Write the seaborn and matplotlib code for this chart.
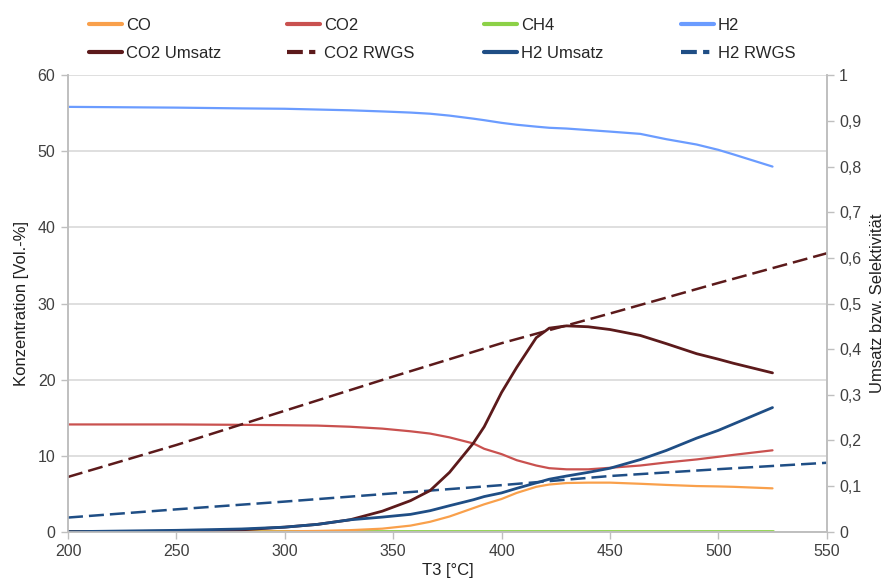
import pandas as pd
import matplotlib
matplotlib.use("Agg")
import matplotlib.pyplot as plt
from matplotlib.ticker import FuncFormatter, MultipleLocator
from matplotlib.lines import Line2D
import seaborn as sns

# temperature grid of the measured series (T3 in °C)
temp = [200, 250, 280, 300, 315, 330, 345, 358, 367, 376, 387, 392, 400,
        407, 416, 422, 430, 440, 450, 464, 476, 490, 500, 507, 525]

# concentrations [Vol.-%] (left axis)
co = [0, 0, 0.02, 0.05, 0.1, 0.2, 0.4, 0.8, 1.3, 2.0, 3.1, 3.6, 4.3,
      5.1, 5.9, 6.2, 6.4, 6.45, 6.45, 6.3, 6.15, 6.0, 5.95, 5.9, 5.7]
co2 = [14.1, 14.1, 14.05, 14.0, 13.95, 13.8, 13.55, 13.2, 12.9, 12.4, 11.6, 10.9, 10.2,
       9.4, 8.7, 8.35, 8.2, 8.2, 8.4, 8.7, 9.1, 9.5, 9.85, 10.1, 10.7]
ch4 = [0.1] * len(temp)
h2 = [55.85, 55.75, 55.65, 55.6, 55.5, 55.4, 55.25, 55.1, 54.95, 54.7, 54.3, 54.1, 53.75,
      53.5, 53.25, 53.1, 53.0, 52.8, 52.6, 52.3, 51.6, 50.9, 50.2, 49.6, 48.0]

# conversions (right axis)
co2_umsatz = [0, 0.001, 0.004, 0.01, 0.016, 0.026, 0.045, 0.068, 0.09, 0.13, 0.194, 0.23, 0.305,
              0.36, 0.425, 0.446, 0.451, 0.449, 0.443, 0.43, 0.412, 0.39, 0.378, 0.369, 0.348]
h2_umsatz = [0, 0.003, 0.006, 0.01, 0.016, 0.026, 0.032, 0.038, 0.046, 0.057, 0.07, 0.077, 0.085,
             0.095, 0.107, 0.115, 0.122, 0.13, 0.139, 0.158, 0.178, 0.205, 0.222, 0.236, 0.272]

# equilibrium (RWGS) curves
temp_rwgs = [200, 250, 300, 350, 400, 450, 500, 550]
co2_rwgs = [0.12, 0.19, 0.265, 0.34, 0.413, 0.478, 0.545, 0.61]
h2_rwgs = [0.031, 0.049, 0.066, 0.084, 0.102, 0.122, 0.137, 0.151]

c_co = "#F9A04B"
c_co2 = "#C9514F"
c_ch4 = "#8CD147"
c_h2 = "#6B9CFF"
c_dred = "#5C1A1B"
c_dblue = "#1F4E85"
grey = "#BFBFBF"
txt = "#404040"

sns.set_style("white")
plt.rcParams["font.family"] = ["Liberation Sans", "DejaVu Sans"]

fig = plt.figure(figsize=(8.88, 5.82), dpi=100)
ax = fig.add_axes([68 / 888, 1 - 531.7 / 582, (826.7 - 68) / 888, (531.7 - 75.3) / 582])
ax2 = ax.twinx()

df = pd.DataFrame({"T": temp, "CO": co, "CO2": co2, "CH4": ch4, "H2": h2,
                   "CO2 Umsatz": co2_umsatz, "H2 Umsatz": h2_umsatz})
dr = pd.DataFrame({"T": temp_rwgs, "CO2 RWGS": co2_rwgs, "H2 RWGS": h2_rwgs})

sns.lineplot(data=df, x="T", y="CH4", ax=ax, color=c_ch4, lw=2)
sns.lineplot(data=df, x="T", y="CO", ax=ax, color=c_co, lw=1.6)
sns.lineplot(data=df, x="T", y="CO2", ax=ax, color=c_co2, lw=1.6)
sns.lineplot(data=df, x="T", y="H2", ax=ax, color=c_h2, lw=1.6)

dash = (6, 2.4)
sns.lineplot(data=dr, x="T", y="CO2 RWGS", ax=ax2, color=c_dred, lw=1.8, dashes=False,
             linestyle=(0, dash))
sns.lineplot(data=dr, x="T", y="H2 RWGS", ax=ax2, color=c_dblue, lw=1.8, dashes=False,
             linestyle=(0, dash))
sns.lineplot(data=df, x="T", y="CO2 Umsatz", ax=ax2, color=c_dred, lw=2)
sns.lineplot(data=df, x="T", y="H2 Umsatz", ax=ax2, color=c_dblue, lw=2)

ax.set_xlim(200, 550)
ax.set_ylim(0, 60)
ax2.set_ylim(0, 1)
ax.xaxis.set_major_locator(MultipleLocator(50))
ax.yaxis.set_major_locator(MultipleLocator(10))
ax2.yaxis.set_major_locator(MultipleLocator(0.1))
ax2.yaxis.set_major_formatter(FuncFormatter(
    lambda v, p: "0" if abs(v) < 1e-9 else ("1" if abs(v - 1) < 1e-9 else f"{v:.1f}".replace(".", ","))))

ax.grid(axis="y", color="#D9D9D9", lw=1.2)
ax.grid(axis="x", visible=False)
ax2.grid(False)
ax.set_axisbelow(True)

for a in (ax, ax2):
    a.spines["top"].set_visible(False)
    for s in ("left", "right", "bottom"):
        a.spines[s].set_color(grey)
        a.spines[s].set_linewidth(1.2)
    a.tick_params(axis="both", length=5, width=1, color=grey, labelcolor=txt, labelsize=11.5,
                  direction="out", pad=4)

ax.tick_params(axis="y", left=True)
ax.tick_params(axis="x", bottom=True)
ax2.tick_params(axis="y", right=True)

ax.set_xlabel("T3 [°C]", fontsize=12, color="#202020", labelpad=3)
ax.set_ylabel("Konzentration [Vol.-%]", fontsize=12, color="#202020", labelpad=6)
ax2.set_ylabel("Umsatz bzw. Selektivität", fontsize=12, color="#202020", labelpad=6)

# legend: 4 columns of two entries, placed like the original
rwgs_dash = (0, (3.8, 1.5, 1.5, 10))
columns = [
    (89, [(c_co, "-", "CO"), (c_dred, "-", "CO2 Umsatz")]),
    (287, [(c_co2, "-", "CO2"), (c_dred, rwgs_dash, "CO2 RWGS")]),
    (484, [(c_ch4, "-", "CH4"), (c_dblue, "-", "H2 Umsatz")]),
    (681, [(c_h2, "-", "H2"), (c_dblue, rwgs_dash, "H2 RWGS")]),
]
for x0, entries in columns:
    hs = [Line2D([], [], color=c, lw=3, linestyle=ls) for c, ls, _ in entries]
    fig.legend(hs, [lab for _, _, lab in entries], loc="upper left",
               bbox_to_anchor=(x0 / 888, 1 - 18 / 582), frameon=False, fontsize=12,
               handlelength=2.0, handletextpad=0.2, labelspacing=0.75,
               borderpad=0, borderaxespad=0)

fig.savefig("out.png", dpi=100)
plt.close(fig)
